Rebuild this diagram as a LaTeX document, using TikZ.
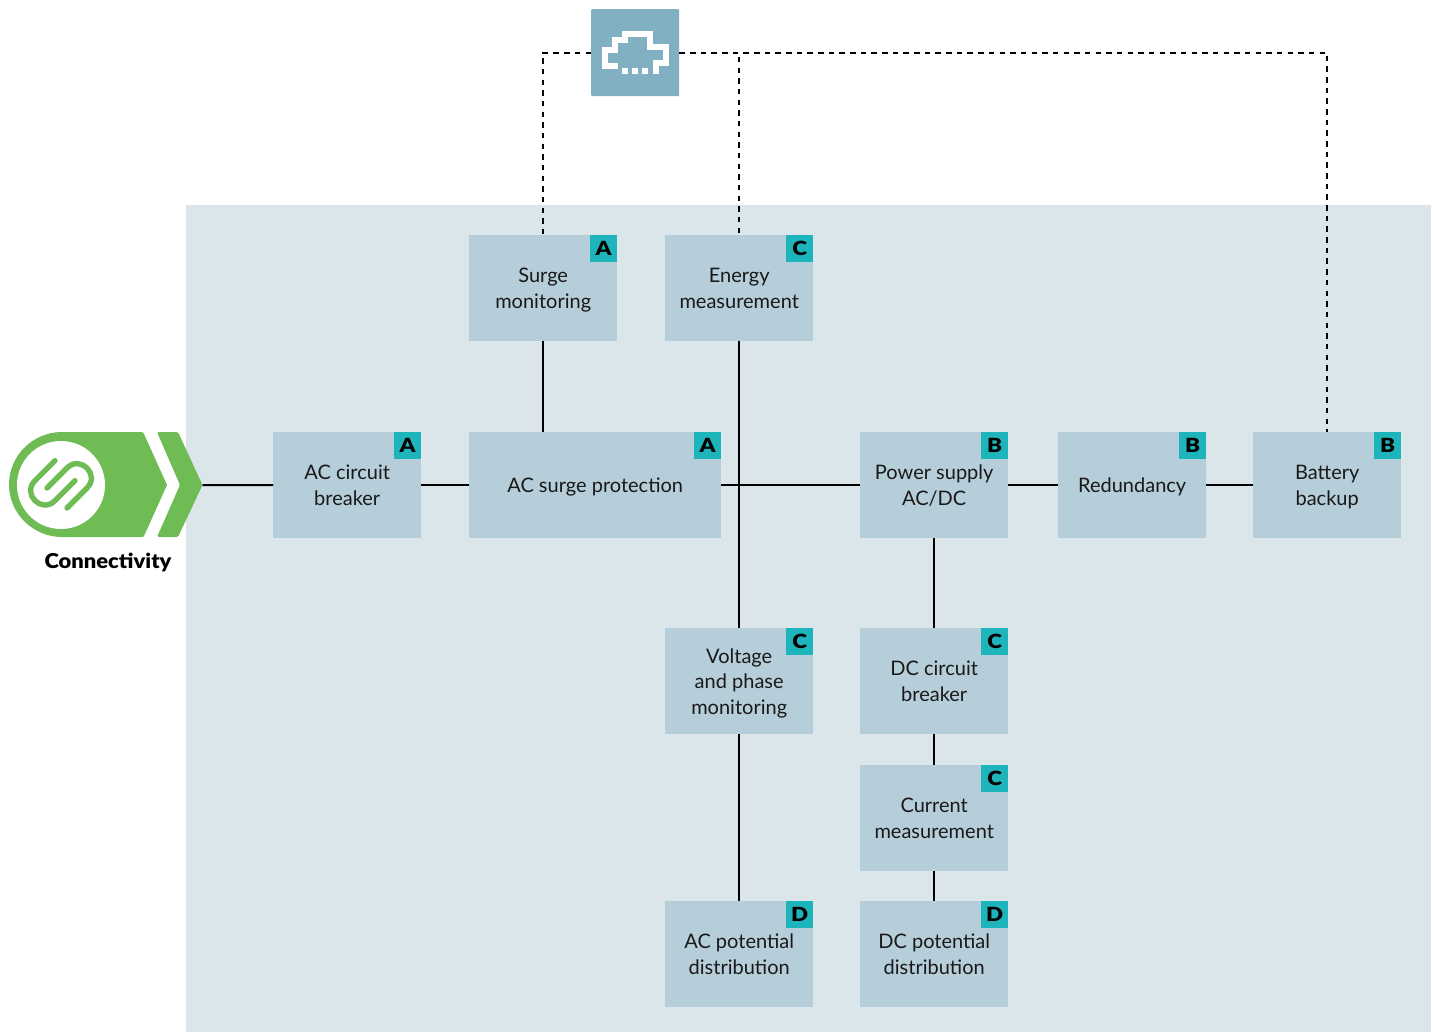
\documentclass[tikz,border=0pt]{standalone}
\usepackage{fontspec}
\setmainfont{Lato}
\newfontfamily\tagfont[FakeStretch=1.15]{Lato Black}
\newfontfamily\connfont[FakeStretch=1.07]{Lato Black}
\definecolor{panel}{HTML}{DBE6EB}
\definecolor{boxc}{HTML}{B6CED9}
\definecolor{tagc}{HTML}{1DB5BB}
\definecolor{cloudc}{HTML}{80B0C2}
\definecolor{greenc}{HTML}{6FBB54}
\newcommand{\ft}{\rule{0pt}{15pt}}
\tikzset{
  x=1pt,y=-1pt,
  blockbox/.style={fill=boxc,draw=none,inner sep=0pt,align=center,font=\fontsize{20}{25.5}\selectfont,text=black!90},
  tagbox/.style={fill=tagc,draw=none,inner sep=0pt,minimum width=27pt,minimum height=27pt,font=\fontsize{19.5}{20}\tagfont,text=black,anchor=north east},
  solidline/.style={draw=black,line width=2pt},
  dashline/.style={draw=black,line width=2pt,dash pattern=on 5.5pt off 5.17pt},
  clipline/.style={draw=greenc,line width=5.4pt,line cap=round},
}
\newcommand{\blk}[7]{% name, x0, y0, w, h, text, tag
  \node[blockbox,minimum width=#4pt,minimum height=#5pt,anchor=north west] (#1) at (#2,#3) {#6};
  \node[tagbox] (#1t) at (#1.north east) {#7};
}
\begin{document}
\begin{tikzpicture}
\useasboundingbox (0,0) rectangle (1436,1032);
\fill[panel] (186,205) rectangle (1431,1032);
% logo
\fill[greenc] (62,432) -- (141,432) .. controls (143,432) and (143.5,433) .. (144,434) -- (167,485) -- (144,536) .. controls (143.5,537) and (143,537) .. (141,537) -- (62,537) .. controls (33,537) and (9,513.5) .. (9,484.5) .. controls (9,455.5) and (33,432) .. (62,432) -- cycle;
\fill[greenc,rounded corners=1.5pt] (157,432) -- (178,432) -- (202.5,485) -- (178,537) -- (157,537) -- (180,485) -- cycle;
\fill[white] (61,485) circle[radius=44pt];
\begin{scope}[shift={(20,450)},x=0.3333pt,y=-0.3333pt]
\draw[clipline] (105,32) -- (45,92) .. controls (5,132) and (65,192) .. (105,152) -- (165,92);
\draw[clipline] (141,174) -- (201,114) .. controls (241,74) and (181,14) .. (141,54) -- (81,114);
\end{scope}
\node[inner sep=0pt,font=\fontsize{20.5}{22}\connfont] (conn) at (108,562.5) {Connectivity};
\coordinate (logotip) at (202.5,485);
% blocks
\blk{surge}{469}{235}{148}{106}{\ft Surge\\\smash{monitoring}}{A}
\blk{energy}{665}{235}{148}{106}{\ft Energy\\\smash{measurement}}{C}
\blk{acb}{273}{432}{148}{106}{\ft AC circuit\\\smash{breaker}}{A}
\blk{asp}{469}{432}{252}{106}{\ft\smash{AC surge protection}}{A}
\blk{psu}{860}{432}{148}{106}{\ft Power supply\\\smash{AC/DC}}{B}
\blk{red}{1058}{432}{148}{106}{\ft\smash{Redundancy}}{B}
\blk{bat}{1253}{432}{148}{106}{\ft Battery\\\smash{backup}}{B}
\blk{volt}{665}{628}{148}{106}{\ft Voltage\\and phase\\\smash{monitoring}}{C}
\blk{dcb}{860}{628}{148}{106}{\ft DC circuit\\\smash{breaker}}{C}
\blk{cur}{860}{765}{148}{106}{\ft Current\\\smash{measurement}}{C}
\blk{acd}{665}{901}{148}{106}{\ft AC potential\\\smash{distribution}}{D}
\blk{dcd}{860}{901}{148}{106}{\ft DC potential\\\smash{distribution}}{D}
% cloud
\node[fill=cloudc,draw=none,rounded corners=1pt,minimum width=88pt,minimum height=87pt,inner sep=0pt,anchor=north west] (cloud) at (591,9) {};
\draw[white,line width=6pt] (617.7,66.3) -- (604.7,66.3) -- (604.7,50) -- (614.7,50) -- (614.7,40) -- (624.7,40) -- (624.7,33.7) -- (649.7,33.7) -- (649.7,46.7) -- (665.7,46.7) -- (665.7,62.7) -- (655.7,62.7) -- (655.7,74);
\foreach \x in {622,632.3,642.3}{\fill[white] (\x,68) rectangle (\x+6,74);}
% connectors
\draw[solidline] (logotip) -- (acb.west);
\draw[solidline] (acb.east) -- (asp.west);
\draw[solidline] (surge.south) -- (surge.south |- asp.north);
\draw[solidline] (energy.south) -- (volt.north);
\draw[solidline] (asp.east) -- (psu.west);
\draw[solidline] (psu.east) -- (red.west);
\draw[solidline] (red.east) -- (bat.west);
\draw[solidline] (psu.south) -- (dcb.north);
\draw[solidline] (dcb.south) -- (cur.north);
\draw[solidline] (cur.south) -- (dcd.north);
\draw[solidline] (volt.south) -- (acd.north);
\draw[dashline] (cloud.west) -| (surge.north);
\draw[dashline] (cloud.east) -| (energy.north);
\draw[dashline] (cloud.east) -| (bat.north);
\end{tikzpicture}
\end{document}
